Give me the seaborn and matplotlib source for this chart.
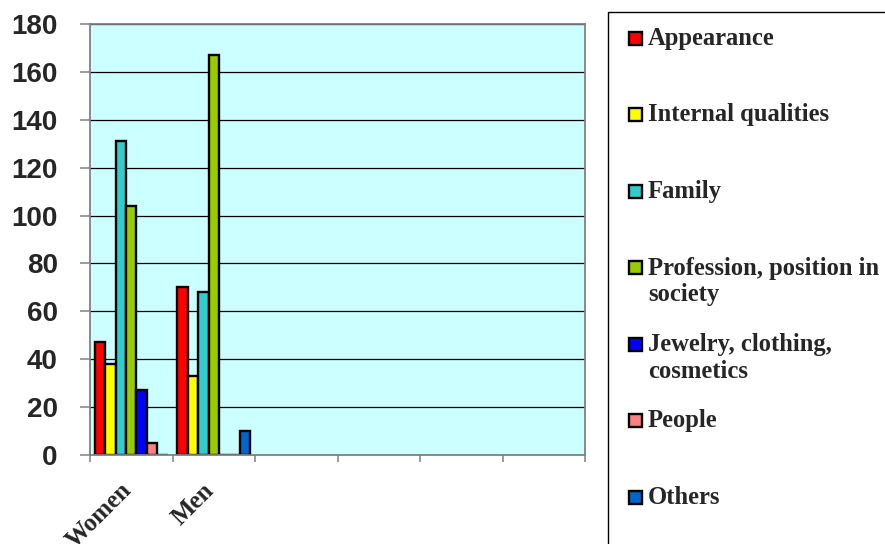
import numpy as np
import pandas as pd
import seaborn as sns
import matplotlib
matplotlib.use("Agg")
import matplotlib.pyplot as plt
from matplotlib.patches import Rectangle
import matplotlib.transforms as mtransforms

# ---- data ----
categories = ["Women", "Men"]
empty_slots = ["c3", "c4", "c5", "c6"]          # unused category slots on the axis
series = ["Appearance", "Internal qualities", "Family",
          "Profession, position in society", "Jewelry, clothing, cosmetics",
          "People", "Others"]
legend_labels = ["Appearance", "Internal qualities", "Family",
                 "Profession, position in\nsociety", "Jewelry, clothing,\ncosmetics",
                 "People", "Others"]
women = [47, 38, 131, 104, 27, 5, 0]
men = [70, 33, 68, 167, 0, 0, 10]
colors = ["#FF0000", "#FFFF00", "#33CCCC", "#99CC00", "#0000FF", "#FF8080", "#0066CC"]
yticks = [0, 20, 40, 60, 80, 100, 120, 140, 160, 180]

rows = []
for s, w, m in zip(series, women, men):
    rows.append({"group": "Women", "series": s, "value": w})
    rows.append({"group": "Men", "series": s, "value": m})
df = pd.DataFrame(rows)

sns.set_theme(style="white")
plt.rcParams["font.family"] = ["Liberation Sans", "DejaVu Sans"]

W, H = 885, 544
fig = plt.figure(figsize=(W / 100, H / 100), dpi=100)
ax = fig.add_axes([90 / W, 89 / H, 495 / W, 431 / H])
ax.set_facecolor("#CCFFFF")

sns.barplot(data=df, x="group", y="value", hue="series",
            order=categories + empty_slots, hue_order=series,
            palette=colors, saturation=1, width=0.885,
            edgecolor="black", linewidth=1.7, legend=False, ax=ax)

ax.set_xlim(-0.5, len(categories) + len(empty_slots) - 0.5)
ax.set_ylim(0, 180)
ax.set_xlabel("")
ax.set_ylabel("")

# grid
ax.set_axisbelow(True)
ax.yaxis.grid(True, color="black", linewidth=0.9)
ax.xaxis.grid(False)

# spines
for side in ["left", "right", "top", "bottom"]:
    ax.spines[side].set_visible(True)
    ax.spines[side].set_color("#808080")
    ax.spines[side].set_linewidth(1.3)

# y ticks
ax.set_yticks(yticks)
ax.set_yticklabels([str(v) for v in yticks], fontsize=20, fontweight="bold",
                   family=["Liberation Sans", "DejaVu Sans"])
ax.tick_params(axis="y", which="major", direction="out", length=7.2, width=1.1,
               color="#808080", pad=16, left=True)

# x ticks: boundaries as major ticks, labels at centers as minor ticks
n = len(categories) + len(empty_slots)
ax.set_xticks(np.arange(-0.5, n, 1.0))
ax.set_xticklabels([""] * (n + 1))
ax.tick_params(axis="x", which="major", direction="out", length=5, width=1.1,
               color="#808080", bottom=True)
xlabels = categories + [""] * len(empty_slots)
ax.set_xticks(np.arange(n), minor=True)
ax.set_xticklabels(xlabels, minor=True, rotation=45, ha="right", va="top",
                   fontsize=18, fontweight="bold",
                   family=["Liberation Serif", "DejaVu Serif"])
ax.tick_params(axis="x", which="minor", length=0, pad=17, bottom=True)
offset = mtransforms.ScaledTranslation(5 / 100, 0, fig.dpi_scale_trans)
for lab in ax.get_xticklabels(minor=True):
    lab.set_transform(lab.get_transform() + offset)

# legend box (manual, Excel style)
fig.add_artist(Rectangle((608 / W, -0.05), 0.5, (H - 12) / H + 0.05,
                         transform=fig.transFigure, fill=False,
                         edgecolor="black", linewidth=1.0))
px = mtransforms.IdentityTransform()
y0, step = 38, 76.5
for i, (lab, col) in enumerate(zip(legend_labels, colors)):
    yc = y0 + i * step
    fig.add_artist(Rectangle((629, H - yc - 6.5), 13, 13, transform=px,
                             facecolor=col, edgecolor="black", linewidth=1.7))
    for k, line in enumerate(lab.split("\n")):
        fig.text(648, H - (yc + 7 + k * 27), line, transform=px,
                 ha="left", va="baseline", fontsize=17.7, fontweight="bold",
                 family=["Liberation Serif", "DejaVu Serif"])

fig.savefig("out.png", dpi=100)
